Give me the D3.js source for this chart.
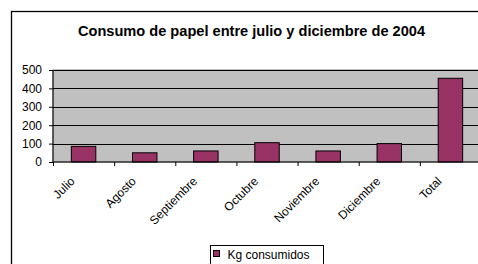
<!DOCTYPE html>
<html>
<head>
<meta charset="utf-8">
<script src="https://cdn.jsdelivr.net/npm/d3@7"></script>
<style>
  body { margin: 0; background: #fff; }
  text { font-family: "Liberation Sans", Arial, sans-serif; }
</style>
</head>
<body>
<div id="chart"></div>
<script>
// data
var meses = ["Julio", "Agosto", "Septiembre", "Octubre", "Noviembre", "Diciembre", "Total"];
var kgConsumidos = [85, 50, 60, 105, 60, 100, 455];
var yTicks = [0, 100, 200, 300, 400, 500];
var serieNombre = "Kg consumidos";

var W = 478, H = 264;
var plot = {left: 53, top: 70, right: 481, bottom: 162};

var svg = d3.select("#chart")
  .append("svg")
  .attr("width", W)
  .attr("height", H);

// outer chart border (runs off the right and bottom edge)
svg.append("rect")
  .attr("x", 11.5).attr("y", 11.5)
  .attr("width", 485).attr("height", 270)
  .attr("fill", "#fff")
  .attr("stroke", "#000")
  .attr("stroke-width", 1.3);

svg.append("text")
  .attr("x", 251.5).attr("y", 36)
  .attr("text-anchor", "middle")
  .attr("font-weight", "bold")
  .attr("font-size", "14.6px")
  .text("Consumo de papel entre julio y diciembre de 2004");

var x = d3.scaleBand()
  .domain(meses)
  .range([plot.left, plot.right])
  .paddingInner(0.6)
  .paddingOuter(0.3);

var y = d3.scaleLinear()
  .domain([0, 500])
  .range([plot.bottom, plot.top]);

// plot area
svg.append("rect")
  .attr("x", plot.left).attr("y", plot.top)
  .attr("width", plot.right - plot.left)
  .attr("height", plot.bottom - plot.top)
  .attr("fill", "#c0c0c0")
  .attr("stroke", "#808080");

// gridlines
svg.append("g")
  .selectAll("line")
  .data(yTicks.slice(1))
  .enter().append("line")
  .attr("x1", plot.left).attr("x2", plot.right)
  .attr("y1", d => Math.round(y(d)) + 0.5)
  .attr("y2", d => Math.round(y(d)) + 0.5)
  .attr("stroke", "#000");

// bars
svg.append("g")
  .selectAll("rect")
  .data(kgConsumidos)
  .enter().append("rect")
  .attr("x", (d, i) => x(meses[i]))
  .attr("y", d => y(d))
  .attr("width", x.bandwidth())
  .attr("height", d => y(0) - y(d))
  .attr("fill", "#993366")
  .attr("stroke", "#000")
  .attr("stroke-width", 1);

// y axis
var yAxis = svg.append("g")
  .attr("transform", "translate(" + plot.left + ",0)")
  .call(d3.axisLeft(y).tickValues(yTicks).tickSize(4).tickPadding(7));
yAxis.selectAll("text").attr("font-size", "12px").attr("fill", "#000").attr("font-family", "Liberation Sans, Arial, sans-serif");
yAxis.selectAll("line, path").attr("stroke", "#000");
yAxis.select("path").attr("d", "M0," + plot.top + "V" + plot.bottom);

// x axis: ticks between categories
var step = x.step();
var xAxis = svg.append("g")
  .attr("transform", "translate(0," + plot.bottom + ")");
xAxis.append("line")
  .attr("x1", plot.left).attr("x2", plot.right)
  .attr("stroke", "#000");
xAxis.selectAll("line.tick")
  .data(meses)
  .enter().append("line")
  .attr("class", "tick")
  .attr("x1", (d, i) => plot.left + i * step + 0.5)
  .attr("x2", (d, i) => plot.left + i * step + 0.5)
  .attr("y1", 0).attr("y2", 4)
  .attr("stroke", "#000");

xAxis.selectAll("text")
  .data(meses)
  .enter().append("text")
  .attr("text-anchor", "end")
  .attr("font-size", "12px")
  .attr("transform", d => "translate(" + (x(d) + x.bandwidth() / 2 - 8) + ",20) rotate(-45)")
  .text(d => d);

// legend
var lg = svg.append("g").attr("transform", "translate(210.5,245.5)");
lg.append("rect")
  .attr("width", 113).attr("height", 22)
  .attr("fill", "#fff").attr("stroke", "#000");
lg.append("rect")
  .attr("x", 3).attr("y", 5).attr("width", 6).attr("height", 6)
  .attr("fill", "#993366").attr("stroke", "#000");
lg.append("text")
  .attr("x", 17).attr("y", 13)
  .attr("font-size", "12px")
  .text(serieNombre);
</script>
</body>
</html>
